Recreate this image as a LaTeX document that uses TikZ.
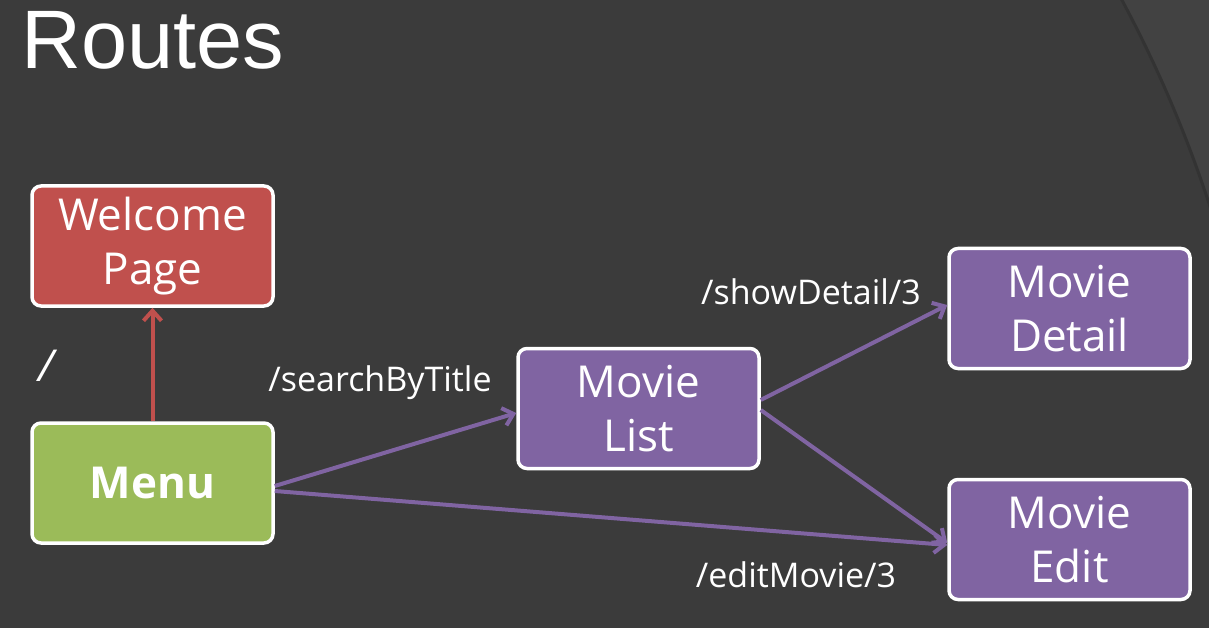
\documentclass[tikz,border=0pt]{standalone}
\usepackage{fontspec}
\setmainfont{Open Sans}
\newfontfamily\titlefont{Liberation Sans}
\usepackage{xcolor}
\usetikzlibrary{arrows.meta, positioning}

\definecolor{slidebg}{HTML}{3B3B3B}
\definecolor{slidearc}{HTML}{424242}
\definecolor{arcshade}{HTML}{333333}
\definecolor{welcomered}{HTML}{C0504D}
\definecolor{menugreen}{HTML}{9BBB59}
\definecolor{moviepurple}{HTML}{8064A2}

\begin{document}
\begin{tikzpicture}[
    x=1pt, y=-1pt,
    box/.style={rectangle, rounded corners=9pt, draw=white, line width=3.5pt,
        minimum width=241pt, minimum height=120pt, text=white,
        align=center, font=\fontsize{44}{54}\selectfont},
    link/.style={-{Straight Barb[length=10pt, width=18pt, line width=4pt]}, line width=4pt, moviepurple},
    label/.style={text=white, font=\fontsize{34}{38}\selectfont, inner sep=0pt}
]

% Background
\fill[slidebg] (0,0) rectangle (1209,628);
\begin{scope}
\clip (0,0) rectangle (1209,628);
\fill[slidearc, even odd rule] (0,0) rectangle (1209,628) (0,600) circle[radius=1273];
\draw[arcshade, line width=3pt] (0,600) circle[radius=1272];
\end{scope}
\useasboundingbox (0,0) rectangle (1209,628);

% Title
\node[anchor=west, text=white, font=\titlefont\fontsize{83}{90}\selectfont, inner sep=0pt] (title) at (21,40) {Routes};

% Welcome Page
\node[box, fill=welcomered] (welcome) at (152.5,246) {Welcome\\Page};

% Menu
\node[box, fill=menugreen, font=\fontsize{44}{54}\selectfont\bfseries] (menu) at (152.5,483) {Menu};

% Movie List
\node[box, fill=moviepurple] (list) at (638.5,408.5) {Movie\\List};

% Movie Detail
\node[box, fill=moviepurple] (detail) at (1069.5,308.5) {Movie\\Detail};

% Movie Edit
\node[box, fill=moviepurple] (edit) at (1069.5,539.5) {Movie\\Edit};

% Labels
\node[label, font=\fontsize{44}{48}\selectfont\itshape] (root) at (46,366) {/};
\node[label] (search) at (380,383) {/searchByTitle};
\node[label] (show) at (811,292) {/showDetail/3};
\node[label] (editlbl) at (796,575) {/editMovie/3};

% Arrows
\draw[link, welcomered] (menu.north) -- (welcome.south);
\draw[link] ([yshift=-3pt]menu.east) -- ([yshift=-4.5pt]list.west);
\draw[link] ([yshift=-8pt]menu.east) -- ([yshift=-5.5pt]edit.west);
\draw[link] ([yshift=8.5pt]list.east) -- ([yshift=3.5pt]detail.west);
\draw[link] ([yshift=-1.5pt]list.east) -- ([yshift=-3.5pt]edit.west);

\end{tikzpicture}
\end{document}
